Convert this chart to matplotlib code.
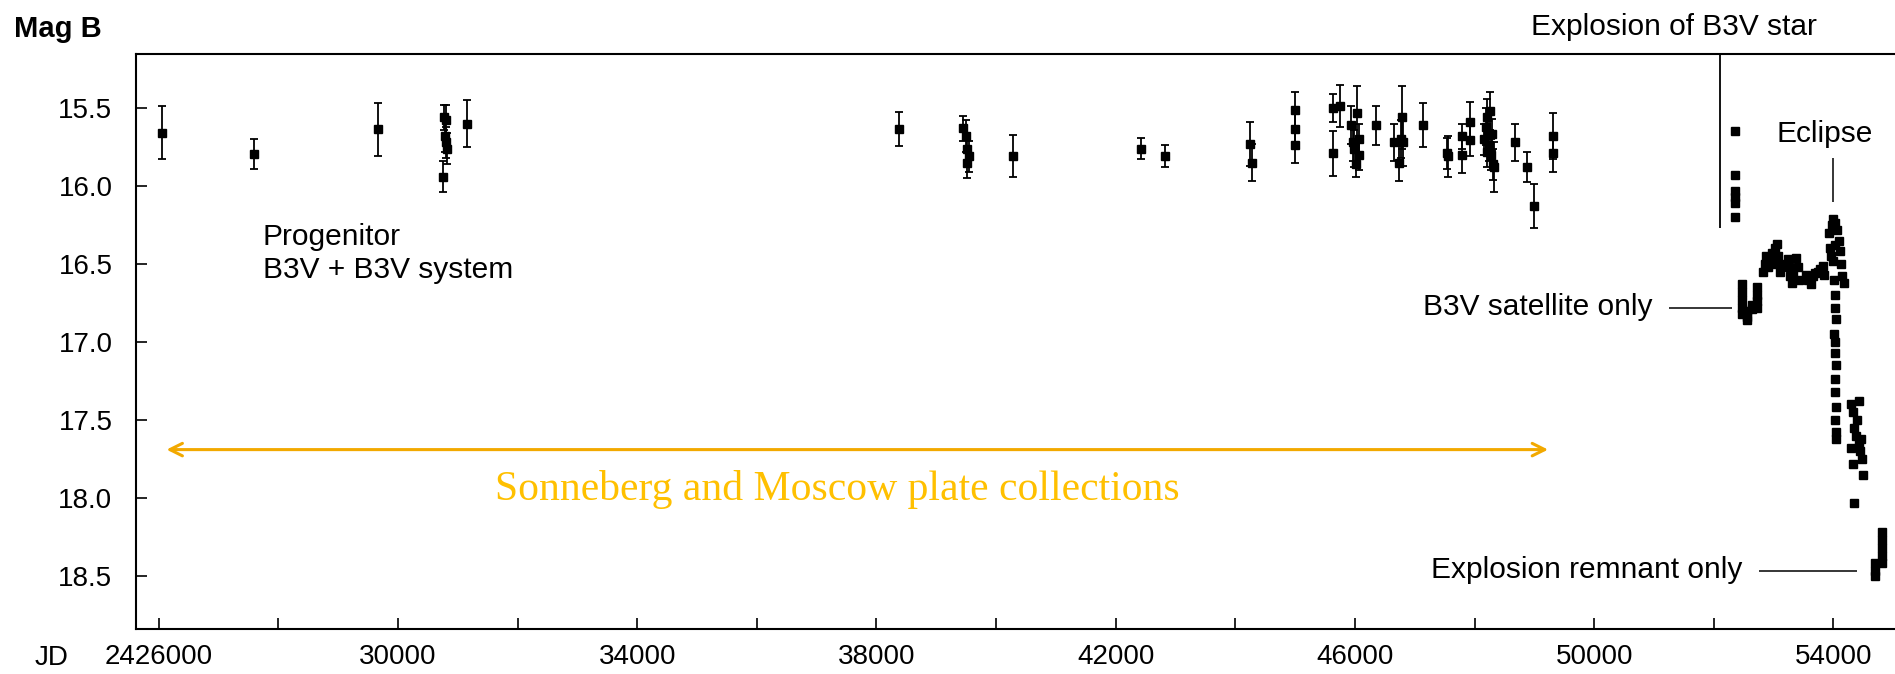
import matplotlib
matplotlib.use('Agg')
import matplotlib.pyplot as plt
from matplotlib.transforms import blended_transform_factory
import numpy as np

# Sonneberg / Moscow plate photometry: JD - 2400000, B mag, error
plate_jd = [26060, 27585, 29660,
            30750, 30770, 30800, 30780, 30810, 30820,
            31155, 38370,
            39450, 39500, 39520, 39540, 39510,
            40280, 42420, 42820, 44240, 44280,
            44995, 44995, 44995,
            45630, 45630, 45750,
            45940, 45970, 45990, 46040, 46060, 46070, 46010,
            46350,
            46650, 46730, 46790, 46810, 46770,
            47140, 47540, 47560, 47790, 47790, 47925, 47925,
            48160, 48190, 48210, 48230, 48250, 48260, 48280, 48290, 48310, 48330, 48200,
            48680, 48880, 48995, 49310, 49310]
plate_mag = [15.66, 15.795, 15.635,
             15.94, 15.56, 15.58, 15.68, 15.72, 15.76,
             15.60, 15.635,
             15.63, 15.68, 15.76, 15.81, 15.85,
             15.81, 15.76, 15.81, 15.73, 15.85,
             15.51, 15.635, 15.74,
             15.50, 15.79, 15.49,
             15.61, 15.72, 15.76, 15.53, 15.70, 15.80, 15.86,
             15.61,
             15.72, 15.85, 15.56, 15.72, 15.70,
             15.61, 15.79, 15.81, 15.68, 15.80, 15.59, 15.705,
             15.70, 15.62, 15.56, 15.66, 15.74, 15.52, 15.80, 15.67, 15.86, 15.88, 15.78,
             15.72, 15.88, 16.13, 15.68, 15.79]
plate_err = [0.17, 0.095, 0.17,
             0.10, 0.08, 0.10, 0.10, 0.10, 0.10,
             0.15, 0.11,
             0.08, 0.10, 0.10, 0.10, 0.10,
             0.135, 0.07, 0.07, 0.14, 0.12,
             0.11, 0.11, 0.11,
             0.09, 0.145, 0.135,
             0.12, 0.12, 0.12, 0.17, 0.10, 0.10, 0.08,
             0.125,
             0.12, 0.12, 0.20, 0.15, 0.12,
             0.14, 0.10, 0.13, 0.08, 0.12, 0.13, 0.10,
             0.10, 0.12, 0.12, 0.10, 0.10, 0.12, 0.10, 0.10, 0.10, 0.16, 0.10,
             0.12, 0.095, 0.14, 0.15, 0.12]

# modern CCD photometry after the explosion
ccd_jd = [52360, 52360, 52360, 52360, 52360, 52360,
          52476, 52476, 52476, 52476, 52476, 52560, 52560, 52560, 52643, 52643,
          52727, 52727, 52727, 52727,
          52830, 52850, 52880, 52900, 52940, 52970, 53000, 53030, 53060, 53080, 53100, 53110,
          53240, 53260, 53280, 53300, 53330, 53380, 53400, 53420,
          53540, 53580, 53620, 53660, 53700, 53740, 53780, 53820, 53840,
          53920, 53940, 53960, 53980, 54000, 54030, 54060, 54090, 54110, 54130, 54150, 54170, 53990, 54020,
          54010, 54020, 54030, 54040, 54010, 54020, 54030, 54040, 54020, 54030, 54040, 54030, 54040, 54040,
          54300, 54330, 54350, 54380, 54400, 54420, 54440, 54460, 54480, 54300, 54320, 54500, 54420, 54340,
          54700, 54700, 54700, 54820, 54820, 54820, 54820, 54820]
ccd_mag = [15.65, 15.93, 16.03, 16.07, 16.11, 16.20,
           16.63, 16.68, 16.73, 16.78, 16.82, 16.80, 16.84, 16.86, 16.76, 16.79,
           16.65, 16.70, 16.74, 16.78,
           16.55, 16.50, 16.45, 16.52, 16.48, 16.43, 16.50, 16.40, 16.37, 16.45, 16.55, 16.50,
           16.47, 16.52, 16.58, 16.62, 16.55, 16.46, 16.52, 16.60,
           16.57, 16.60, 16.63, 16.58, 16.56, 16.55, 16.53, 16.51, 16.57,
           16.30, 16.40, 16.45, 16.25, 16.21, 16.24, 16.28, 16.35, 16.42, 16.50, 16.58, 16.62, 16.48, 16.38,
           16.60, 16.70, 16.78, 16.85, 16.95, 17.00, 17.07, 17.15, 17.24, 17.32, 17.42, 17.50, 17.58, 17.62,
           17.40, 17.45, 17.55, 17.60, 17.50, 17.65, 17.70, 17.62, 17.75, 17.68, 17.78, 17.85, 17.38, 18.03,
           18.42, 18.47, 18.50, 18.22, 18.27, 18.32, 18.37, 18.42]

xticks = list(range(26000, 54001, 2000))
yticks = [15.5, 16.0, 16.5, 17.0, 17.5, 18.0, 18.5]

text_font = ['Liberation Sans', 'DejaVu Sans']

fig = plt.figure(figsize=(18.95, 6.74), dpi=100)
ax = fig.add_axes([136 / 1895, 1 - 629 / 674, 1 - 136 / 1895, 575 / 674])

ax.errorbar(plate_jd, plate_mag, yerr=plate_err, fmt='s', color='black',
            ms=6, elinewidth=1.3, capsize=3, capthick=1.3)
ax.plot(ccd_jd, ccd_mag, 's', color='black', ms=5.5)

ax.set_xlim(25620, 55030)
ax.set_ylim(18.84, 15.154)

ax.set_xticks(xticks)
ax.set_xticklabels(['2426000' if v == 26000 else (str(v) if v % 4000 == 2000 else '')
                    for v in xticks])
ax.set_yticks(yticks)
ax.set_yticklabels(['%.1f' % v for v in yticks])
ax.tick_params(direction='in', length=8, width=1.2, labelsize=20)
ax.tick_params(axis='x', pad=11)
ax.tick_params(axis='y', pad=17)
for lab in ax.get_xticklabels() + ax.get_yticklabels():
    lab.set_family(text_font)
for sp in ['left', 'bottom', 'top']:
    ax.spines[sp].set_linewidth(1.5)
ax.spines['right'].set_visible(False)

# explosion marker and annotations
ax.vlines(52108, 15.154, 16.27, color='black', lw=1.3)
ax.vlines(53999, 15.82, 16.10, color='black', lw=1.1)
ax.hlines(16.78, 51255, 52310, color='black', lw=1.1)
ax.hlines(18.47, 52760, 54400, color='black', lw=1.1)

trans = blended_transform_factory(ax.transData, ax.transAxes)
ax.text(51340, 1.033, 'Explosion of B3V star', transform=trans, ha='center',
        va='baseline', fontsize=21.5, family=text_font, clip_on=False)
ax.text(53850, 15.72, 'Eclipse', ha='center', va='baseline', fontsize=21.5, family=text_font)
ax.text(50970, 16.83, 'B3V satellite only', ha='right', va='baseline', fontsize=21.5, family=text_font)
ax.text(52476, 18.51, 'Explosion remnant only', ha='right', va='baseline', fontsize=21.5, family=text_font)
ax.text(27740, 16.38, 'Progenitor', ha='left', va='baseline', fontsize=21.5, family=text_font)
ax.text(27740, 16.59, 'B3V + B3V system', ha='left', va='baseline', fontsize=21.5, family=text_font)

# plate collection span
ax.annotate('', xy=(26130, 17.69), xytext=(49230, 17.69),
            arrowprops=dict(arrowstyle='<->,head_length=0.9,head_width=0.45',
                            color='#F2A900', lw=2.2, shrinkA=0, shrinkB=0))
ax.text(37350, 18.01, 'Sonneberg and Moscow plate collections', ha='center', va='baseline',
        fontsize=30, color='#FFC000', family=['Liberation Serif', 'DejaVu Serif'])

fig.text(14 / 1895, 1 - 37 / 674, 'Mag B', ha='left', va='baseline', fontsize=21,
         fontweight='bold', family=text_font)
fig.text(35 / 1895, 1 - 645 / 674, 'JD', ha='left', va='top', fontsize=20, family=text_font)

fig.savefig('out.png', dpi=100)
